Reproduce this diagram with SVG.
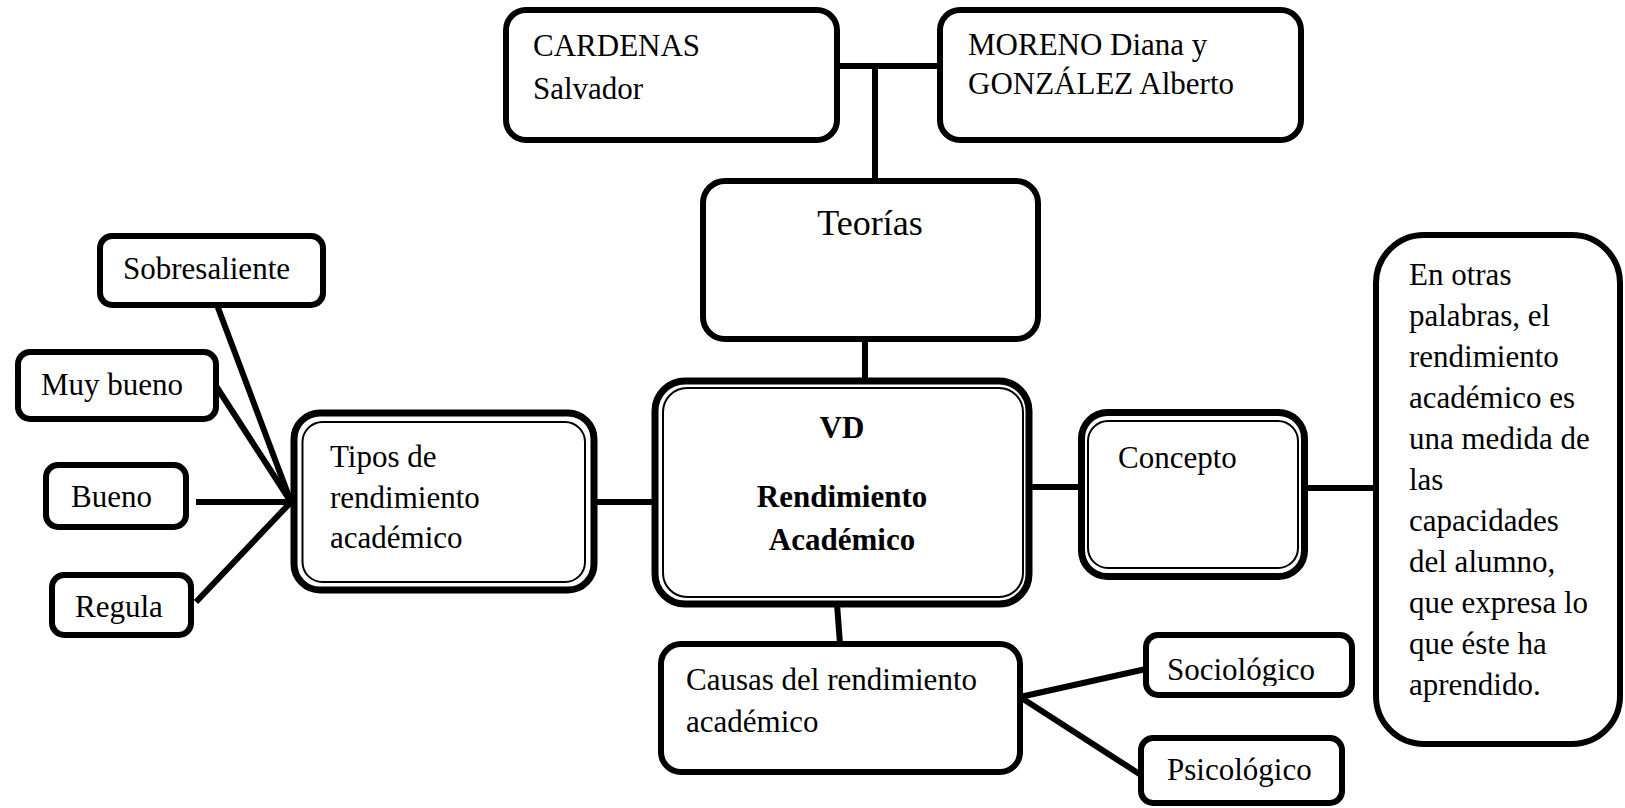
<svg xmlns="http://www.w3.org/2000/svg" width="1625" height="808" viewBox="0 0 1625 808">
<style>
.box{fill:#fff;stroke:#000;stroke-width:6}
.outer{fill:#fff;stroke:#000;stroke-width:7}
.inner{fill:none;stroke:#000;stroke-width:2}
.t{font-family:"Liberation Serif","Times New Roman",serif;font-size:31px;fill:#000}
.b{font-weight:bold}
.c{stroke:#000;stroke-width:6;fill:none}
</style>
<defs>
<clipPath id="socClip"><rect x="1146" y="635" width="206" height="51"/></clipPath>
</defs>
<rect width="1625" height="808" fill="#fff"/>
<g id="connectors">
<line class="c" x1="837" y1="66" x2="940" y2="66"/>
<line class="c" x1="875" y1="66" x2="875" y2="181"/>
<line class="c" x1="865" y1="339" x2="865" y2="381"/>
<line class="c" x1="597" y1="502" x2="655" y2="502"/>
<line class="c" x1="1029" y1="487" x2="1081" y2="487"/>
<line class="c" x1="1305" y1="488" x2="1376" y2="488"/>
<line class="c" x1="837" y1="604" x2="840" y2="644"/>
<line class="c" x1="1020" y1="697" x2="1146" y2="669"/>
<line class="c" x1="1020" y1="697" x2="1141" y2="775"/>
<line class="c" x1="217" y1="305" x2="291" y2="502"/>
<line class="c" x1="216" y1="386" x2="291" y2="502"/>
<line class="c" x1="196" y1="502" x2="291" y2="502"/>
<line class="c" x1="196" y1="602" x2="291" y2="502"/>
</g>
<g id="cardenas">
<rect class="box" x="506" y="10" width="331" height="130" rx="20"/>
<text class="t" x="533" y="56">CARDENAS</text>
<text class="t" x="533" y="99">Salvador</text>
</g>
<g id="moreno">
<rect class="box" x="940" y="10" width="361" height="130" rx="20"/>
<text class="t" x="968" y="55">MORENO Diana y</text>
<text class="t" x="968" y="94">GONZÁLEZ Alberto</text>
</g>
<g id="teorias">
<rect class="box" x="703" y="181" width="335" height="158" rx="22"/>
<text class="t" x="870" y="235" text-anchor="middle" style="font-size:36px">Teorías</text>
</g>
<g id="vd">
<rect class="outer" x="655" y="381" width="374" height="223" rx="30"/>
<rect class="inner" x="663" y="388" width="360" height="209" rx="24"/>
<text class="t b" x="842" y="438" text-anchor="middle">VD</text>
<text class="t b" x="842" y="507" text-anchor="middle">Rendimiento</text>
<text class="t b" x="842" y="550" text-anchor="middle">Académico</text>
</g>
<g id="tipos">
<rect class="outer" x="294" y="413" width="300" height="177" rx="26"/>
<rect class="inner" x="302.5" y="422" width="282.5" height="160" rx="20"/>
<text class="t" x="330" y="467">Tipos de</text>
<text class="t" x="330" y="508">rendimiento</text>
<text class="t" x="330" y="548">académico</text>
</g>
<g id="concepto">
<rect class="outer" x="1081.5" y="412.5" width="223" height="164" rx="26"/>
<rect class="inner" x="1088" y="421" width="210" height="147" rx="20"/>
<text class="t" x="1118" y="468">Concepto</text>
</g>
<g id="definicion">
<rect class="box" x="1376" y="235" width="244" height="509" rx="48"/>
<text class="t" x="1409" y="285">En otras</text>
<text class="t" x="1409" y="326">palabras, el</text>
<text class="t" x="1409" y="367">rendimiento</text>
<text class="t" x="1409" y="408">académico es</text>
<text class="t" x="1409" y="449">una medida de</text>
<text class="t" x="1409" y="490">las</text>
<text class="t" x="1409" y="531">capacidades</text>
<text class="t" x="1409" y="572">del alumno,</text>
<text class="t" x="1409" y="613">que expresa lo</text>
<text class="t" x="1409" y="654">que éste ha</text>
<text class="t" x="1409" y="695">aprendido.</text>
</g>
<g id="causas">
<rect class="box" x="661" y="644" width="359" height="128" rx="20"/>
<text class="t" x="686" y="690">Causas del rendimiento</text>
<text class="t" x="686" y="732">académico</text>
</g>
<g id="sociologico">
<rect class="box" x="1146" y="635" width="206" height="60" rx="12"/>
<text class="t" x="1167" y="680" clip-path="url(#socClip)">Sociológico</text>
</g>
<g id="psicologico">
<rect class="box" x="1141" y="738" width="201" height="65" rx="12"/>
<text class="t" x="1167" y="780">Psicológico</text>
</g>
<g id="sobresaliente">
<rect class="box" x="100" y="236" width="223" height="69" rx="12"/>
<text class="t" x="123" y="279">Sobresaliente</text>
</g>
<g id="muybueno">
<rect class="box" x="18" y="352" width="198" height="67" rx="12"/>
<text class="t" x="41" y="395">Muy bueno</text>
</g>
<g id="bueno">
<rect class="box" x="46" y="465" width="140" height="62" rx="12"/>
<text class="t" x="71" y="507">Bueno</text>
</g>
<g id="regula">
<rect class="box" x="52" y="575" width="139" height="60" rx="12"/>
<text class="t" x="75" y="617">Regula</text>
</g>
</svg>
